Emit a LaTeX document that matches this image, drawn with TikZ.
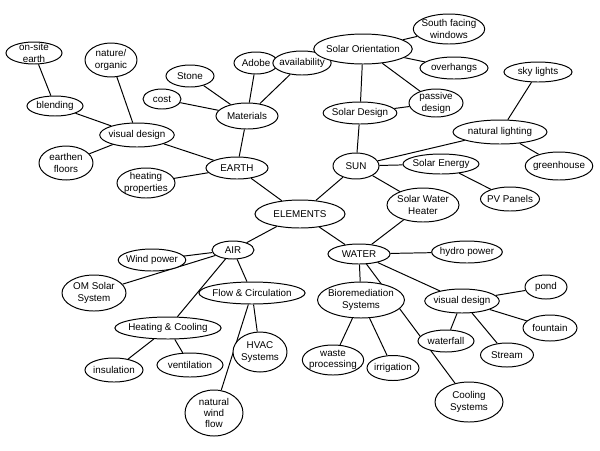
\documentclass[tikz,border=0pt]{standalone}
\usepackage{fontspec}
\setmainfont{Liberation Sans}
\usetikzlibrary{shapes.geometric,backgrounds}

\begin{document}
\begin{tikzpicture}[
  x=0.025cm,y=-0.025cm,
  every node/.style={font=\scriptsize},
  bub/.style={draw,ellipse,line width=0.7pt,fill=white,inner sep=-1.5pt,align=center},
  sz/.style 2 args={minimum width=#1*0.025cm,minimum height=#2*0.025cm},
  ln/.style={line width=0.7pt},
]
\useasboundingbox (0,0) rectangle (600,450);

%% centre and the four elements
\node[bub,sz={90}{28}] (ELM) at (300,214) {ELEMENTS};
\node[bub,sz={62}{22}] (EARTH) at (237,168) {EARTH};
\node[bub,sz={46}{26}] (SUN) at (356,166) {SUN};
\node[bub,sz={42}{18}] (AIR) at (233,250) {AIR};
\node[bub,sz={62}{20}] (WATER) at (359,254) {WATER};

%% earth
\node[bub,sz={62}{26}] (MAT) at (247,116) {Materials};
\node[bub,sz={48}{22}] (STONE) at (190,76) {Stone};
\node[bub,sz={38}{20}] (COST) at (162,99) {cost};
\node[bub,sz={44}{22}] (ADOBE) at (256,63) {Adobe};
\node[bub,sz={52}{24}] (AVAIL) at (302,63) {availability};
\node[bub,sz={74}{24}] (VDE) at (137,135) {visual design};
\node[bub,sz={56}{20}] (BLEND) at (55,106) {blending};
\node[bub,sz={56}{22}] (ONSITE) at (34,53) {on-site\\earth};
\node[bub,sz={52}{34}] (NATURE) at (111,60) {nature/\\organic};
\node[bub,sz={54}{34}] (FLOORS) at (66,163) {earthen\\floors};
\node[bub,sz={58}{30}] (HEATP) at (146,183) {heating\\properties};

%% sun
\node[bub,sz={82}{30}] (ORIENT) at (363,49) {Solar Orientation};
\node[bub,sz={66}{30}] (SOUTH) at (449,29) {South facing\\windows};
\node[bub,sz={68}{22}] (OVER) at (454,68) {overhangs};
\node[bub,sz={54}{28}] (PASSIVE) at (436,103) {passive\\design};
\node[bub,sz={68}{22}] (SDESIGN) at (360,113) {Solar Design};
\node[bub,sz={68}{20}] (SKY) at (538,72) {sky lights};
\node[bub,sz={94}{24}] (LIGHT) at (500,132) {natural lighting};
\node[bub,sz={62}{28}] (GREEN) at (559,166) {greenhouse};
\node[bub,sz={76}{20}] (ENERGY) at (441,164) {Solar Energy};
\node[bub,sz={56}{24}] (PV) at (510,199) {PV Panels};
\node[bub,sz={72}{34}] (SWH) at (423,205) {Solar Water\\Heater};

%% water
\node[bub,sz={70}{22}] (HYDRO) at (467,252) {hydro power};
\node[bub,sz={80}{36}] (BIO) at (361,300) {Bioremediation\\Systems};
\node[bub,sz={72}{24}] (VDW) at (462,301) {visual design};
\node[bub,sz={42}{24}] (POND) at (546,287) {pond};
\node[bub,sz={54}{26}] (FOUNT) at (550,328) {fountain};
\node[bub,sz={56}{22}] (FALL) at (446,341) {waterfall};
\node[bub,sz={53}{24}] (STREAM) at (507,355) {Stream};
\node[bub,sz={58}{30}] (WASTE) at (333,360) {waste\\processing};
\node[bub,sz={52}{25}] (IRRIG) at (393,368) {irrigation};
\node[bub,sz={68}{40}] (COOLS) at (469,402) {Cooling\\Systems};

%% air
\node[bub,sz={63}{22}] (WIND) at (152,260) {Wind power};
\node[bub,sz={64}{36}] (OMS) at (94,293) {OM Solar\\System};
\node[bub,sz={92}{22}] (FLOW) at (252,293) {Flow \& Circulation};
\node[bub,sz={100}{22}] (HC) at (168,328) {Heating \& Cooling};
\node[bub,sz={58}{24}] (INSUL) at (114,370) {insulation};
\node[bub,sz={66}{24}] (VENT) at (190,365) {ventilation};
\node[bub,sz={54}{40}] (HVAC) at (260,352) {HVAC\\Systems};
\node[bub,sz={58}{46}] (NWF) at (214,413) {natural\\wind\\flow};

%% connectors
\begin{scope}[on background layer]
\draw[ln] (ELM) -- (EARTH);
\draw[ln] (ELM) -- (SUN);
\draw[ln] (ELM) -- (AIR);
\draw[ln] (ELM) -- (WATER);

\draw[ln] (EARTH) -- (MAT);
\draw[ln] (MAT) -- (STONE);
\draw[ln] (MAT) -- (COST);
\draw[ln] (MAT) -- (ADOBE);
\draw[ln] (MAT) -- (AVAIL);
\draw[ln] (EARTH) -- (VDE);
\draw[ln] (EARTH) -- (HEATP);
\draw[ln] (VDE) -- (BLEND);
\draw[ln] (BLEND) -- (ONSITE);
\draw[ln] (VDE) -- (NATURE);
\draw[ln] (VDE) -- (FLOORS);

\draw[ln] (SUN) -- (SDESIGN);
\draw[ln] (SDESIGN) -- (ORIENT);
\draw[ln] (ORIENT) -- (SOUTH);
\draw[ln] (ORIENT) -- (OVER);
\draw[ln] (ORIENT) -- (PASSIVE);
\draw[ln] (SDESIGN) -- (PASSIVE);
\draw[ln] (SUN) -- (LIGHT);
\draw[ln] (LIGHT) -- (SKY);
\draw[ln] (LIGHT) -- (GREEN);
\draw[ln] (SUN) -- (ENERGY);
\draw[ln] (ENERGY) -- (PV);
\draw[ln] (SUN) -- (SWH);
\draw[ln] (SWH) -- (WATER);

\draw[ln] (WATER) -- (HYDRO);
\draw[ln] (WATER) -- (BIO);
\draw[ln] (WATER) -- (COOLS);
\draw[ln] (WATER) -- (VDW);
\draw[ln] (BIO) -- (WASTE);
\draw[ln] (BIO) -- (IRRIG);
\draw[ln] (VDW) -- (POND);
\draw[ln] (VDW) -- (FOUNT);
\draw[ln] (VDW) -- (FALL);
\draw[ln] (VDW) -- (STREAM);

\draw[ln] (AIR) -- (WIND);
\draw[ln] (AIR) -- (OMS);
\draw[ln] (AIR) -- (HC);
\draw[ln] (AIR) -- (FLOW);
\draw[ln] (HC) -- (INSUL);
\draw[ln] (HC) -- (VENT);
\draw[ln] (FLOW) -- (HVAC);
\draw[ln] (FLOW) -- (NWF);
\end{scope}

\end{tikzpicture}
\end{document}
